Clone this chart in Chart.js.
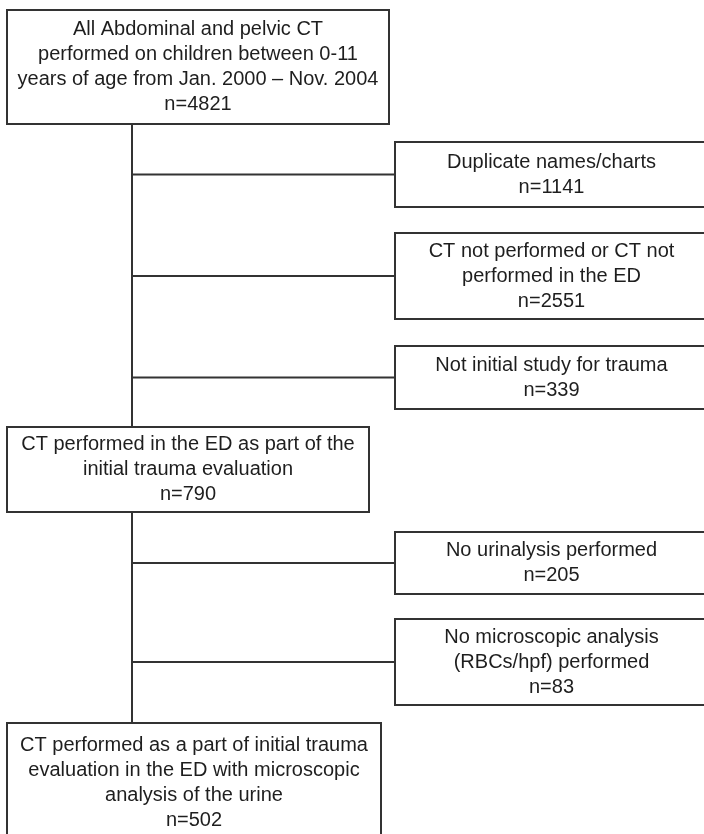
<!DOCTYPE html>
<html>
<head>
<meta charset="utf-8">
<script src="https://cdn.jsdelivr.net/npm/chart.js@4/dist/chart.umd.min.js"></script>
<style>
  html, body { margin: 0; padding: 0; background: #fff; }
  #wrap { width: 704px; height: 834px; }
</style>
</head>
<body>
<div id="wrap"><canvas id="flow" width="704" height="834"></canvas></div>
<script>
// main stages of the flow (text lines) and their counts
var mainSteps = [
  ['All Abdominal and pelvic CT', 'performed on children between 0-11', 'years of age from Jan. 2000 \u2013 Nov. 2004'],
  ['CT performed in the ED as part of the', 'initial trauma evaluation'],
  ['CT performed as a part of initial trauma', 'evaluation in the ED with microscopic', 'analysis of the urine']
];
var mainCounts = [4821, 790, 502];

// excluded groups branching off to the right
var exclusions = [
  ['Duplicate names/charts'],
  ['CT not performed or CT not', 'performed in the ED'],
  ['Not initial study for trauma'],
  ['No urinalysis performed'],
  ['No microscopic analysis', '(RBCs/hpf) performed']
];
var exclusionCounts = [1141, 2551, 339, 205, 83];
var exclusionStage = [0, 0, 0, 1, 1];

// layout in axis units (x: 0..704, y: 0..834 top-down)
var mainBoxes = [
  { x0: 7, x1: 389, y0: 10, y1: 124 },
  { x0: 7, x1: 369, y0: 427, y1: 512 },
  { x0: 7, x1: 381, y0: 723, y1: 843 }
];
var sideBoxes = [
  { x0: 395, x1: 708, y0: 142, y1: 207 },
  { x0: 395, x1: 708, y0: 233, y1: 319 },
  { x0: 395, x1: 708, y0: 346, y1: 409 },
  { x0: 395, x1: 708, y0: 532, y1: 594 },
  { x0: 395, x1: 708, y0: 619, y1: 705 }
];
var trunkX = 132;
var lineGap = 25;
var ink = '#333333';

// connectors as line datasets
var datasets = [];
for (var i = 0; i < mainBoxes.length - 1; i++) {
  datasets.push({
    data: [{ x: trunkX, y: mainBoxes[i].y1 }, { x: trunkX, y: mainBoxes[i + 1].y0 }]
  });
}
sideBoxes.forEach(function (b) {
  var yc = (b.y0 + b.y1) / 2;
  datasets.push({ data: [{ x: trunkX, y: yc }, { x: b.x0, y: yc }] });
});
datasets.forEach(function (d) {
  d.showLine = true;
  d.borderColor = ink;
  d.borderWidth = 2;
  d.pointRadius = 0;
  d.fill = false;
  d.clip = false;
});

var boxPlugin = {
  id: 'boxes',
  afterDatasetsDraw: function (chart) {
    var ctx = chart.ctx;
    var xs = chart.scales.x, ys = chart.scales.y;
    function drawBox(b, lines) {
      var left = xs.getPixelForValue(b.x0), right = xs.getPixelForValue(b.x1);
      var top = ys.getPixelForValue(b.y0), bottom = ys.getPixelForValue(b.y1);
      ctx.save();
      ctx.fillStyle = '#ffffff';
      ctx.fillRect(left, top, right - left, bottom - top);
      ctx.strokeStyle = ink;
      ctx.lineWidth = 2;
      ctx.strokeRect(left, top, right - left, bottom - top);
      ctx.fillStyle = '#1e1e1e';
      ctx.font = '20px "Liberation Sans", Arial, sans-serif';
      ctx.textAlign = 'center';
      ctx.textBaseline = 'middle';
      var cx = (left + right) / 2;
      var cy = (top + bottom) / 2;
      var start = cy - (lines.length - 1) * lineGap / 2;
      lines.forEach(function (t, k) {
        ctx.fillText(t, cx, start + k * lineGap);
      });
      ctx.restore();
    }
    mainBoxes.forEach(function (b, i) {
      drawBox(b, mainSteps[i].concat(['n=' + mainCounts[i]]));
    });
    sideBoxes.forEach(function (b, i) {
      drawBox(b, exclusions[i].concat(['n=' + exclusionCounts[i]]));
    });
  }
};

new Chart(document.getElementById('flow'), {
  type: 'scatter',
  data: { datasets: datasets },
  options: {
    responsive: false,
    animation: false,
    layout: { padding: 0 },
    plugins: { legend: { display: false }, tooltip: { enabled: false } },
    scales: {
      x: { type: 'linear', min: 0, max: 704, display: false },
      y: { type: 'linear', min: 0, max: 834, reverse: true, display: false }
    }
  },
  plugins: [boxPlugin]
});
</script>
</body>
</html>
